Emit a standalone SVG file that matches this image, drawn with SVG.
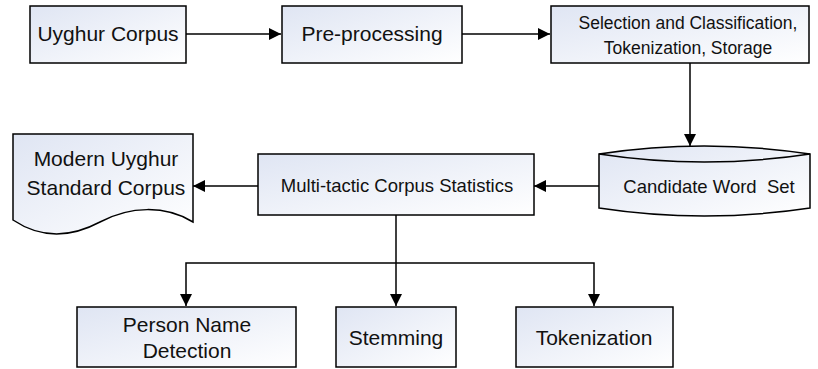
<svg xmlns="http://www.w3.org/2000/svg" width="818" height="369" viewBox="0 0 818 369">
<defs>
<linearGradient id="fillg" x1="0" y1="0" x2="1" y2="1">
<stop offset="0" stop-color="#dfe5f3"/>
<stop offset="1" stop-color="#ffffff"/>
</linearGradient>
<marker id="ah" viewBox="0 0 10 10" refX="10" refY="5" markerWidth="12" markerHeight="12" markerUnits="userSpaceOnUse" orient="auto">
<path d="M0,0 L10,5 L0,10 z" fill="#000"/>
</marker>
</defs>
<style>
.box{fill:url(#fillg);stroke:#000;stroke-width:1.5}
.t{font-family:"Liberation Sans",Arial,sans-serif;fill:#111;text-anchor:middle;white-space:pre}
.l{font-size:21px}
.s{font-size:18.5px}
.m{font-size:17.5px}
.c{fill:none;stroke:#000;stroke-width:1.5}
</style>
<rect width="818" height="369" fill="#fff"/>
<g id="connectors">
<path class="c" d="M186,34 H281" marker-end="url(#ah)"/>
<path class="c" d="M462,34 H550" marker-end="url(#ah)"/>
<path class="c" d="M690,63 V146" marker-end="url(#ah)"/>
<path class="c" d="M599,186 H534" marker-end="url(#ah)"/>
<path class="c" d="M258,186 H193" marker-end="url(#ah)"/>
<path class="c" d="M396,215 V306" marker-end="url(#ah)"/>
<path class="c" d="M396,263 H186 V306" marker-end="url(#ah)"/>
<path class="c" d="M396,263 H594 V306" marker-end="url(#ah)"/>
</g>
<g id="uyghur-corpus">
<rect class="box" x="30" y="6" width="156" height="57"/>
<text class="t l" x="108" y="41">Uyghur Corpus</text>
</g>
<g id="pre-processing">
<rect class="box" x="282" y="6" width="180" height="57"/>
<text class="t l" x="372" y="41">Pre-processing</text>
</g>
<g id="selection">
<rect class="box" x="551" y="6" width="258" height="57"/>
<text class="t m" x="688" y="29">Selection and Classification,</text>
<text class="t m" x="688" y="54">Tokenization, Storage</text>
</g>
<g id="candidate-word-set">
<path class="box" d="M599,154 Q704,138 810,154 V208 Q704,224 599,208 Z"/>
<path class="c" d="M599,154 Q704,170 810,154"/>
<text class="t s" x="709" y="193">Candidate Word  Set</text>
</g>
<g id="multi-tactic">
<rect class="box" x="258" y="154" width="276" height="61"/>
<text class="t s" x="397" y="192">Multi-tactic Corpus Statistics</text>
</g>
<g id="modern-uyghur">
<path class="box" d="M13,134 H193 V222 C165,205 130,206 100,222 C70,238 40,238 13,220 Z"/>
<text class="t l" x="106" y="166">Modern Uyghur</text>
<text class="t l" x="106" y="195">Standard Corpus</text>
</g>
<g id="person-name">
<rect class="box" x="77" y="307" width="219" height="60"/>
<text class="t l" x="187" y="332">Person Name</text>
<text class="t l" x="187" y="358">Detection</text>
</g>
<g id="stemming">
<rect class="box" x="336" y="307" width="120" height="60"/>
<text class="t l" x="396" y="345">Stemming</text>
</g>
<g id="tokenization">
<rect class="box" x="516" y="307" width="157" height="60"/>
<text class="t l" x="594" y="345">Tokenization</text>
</g>
</svg>
